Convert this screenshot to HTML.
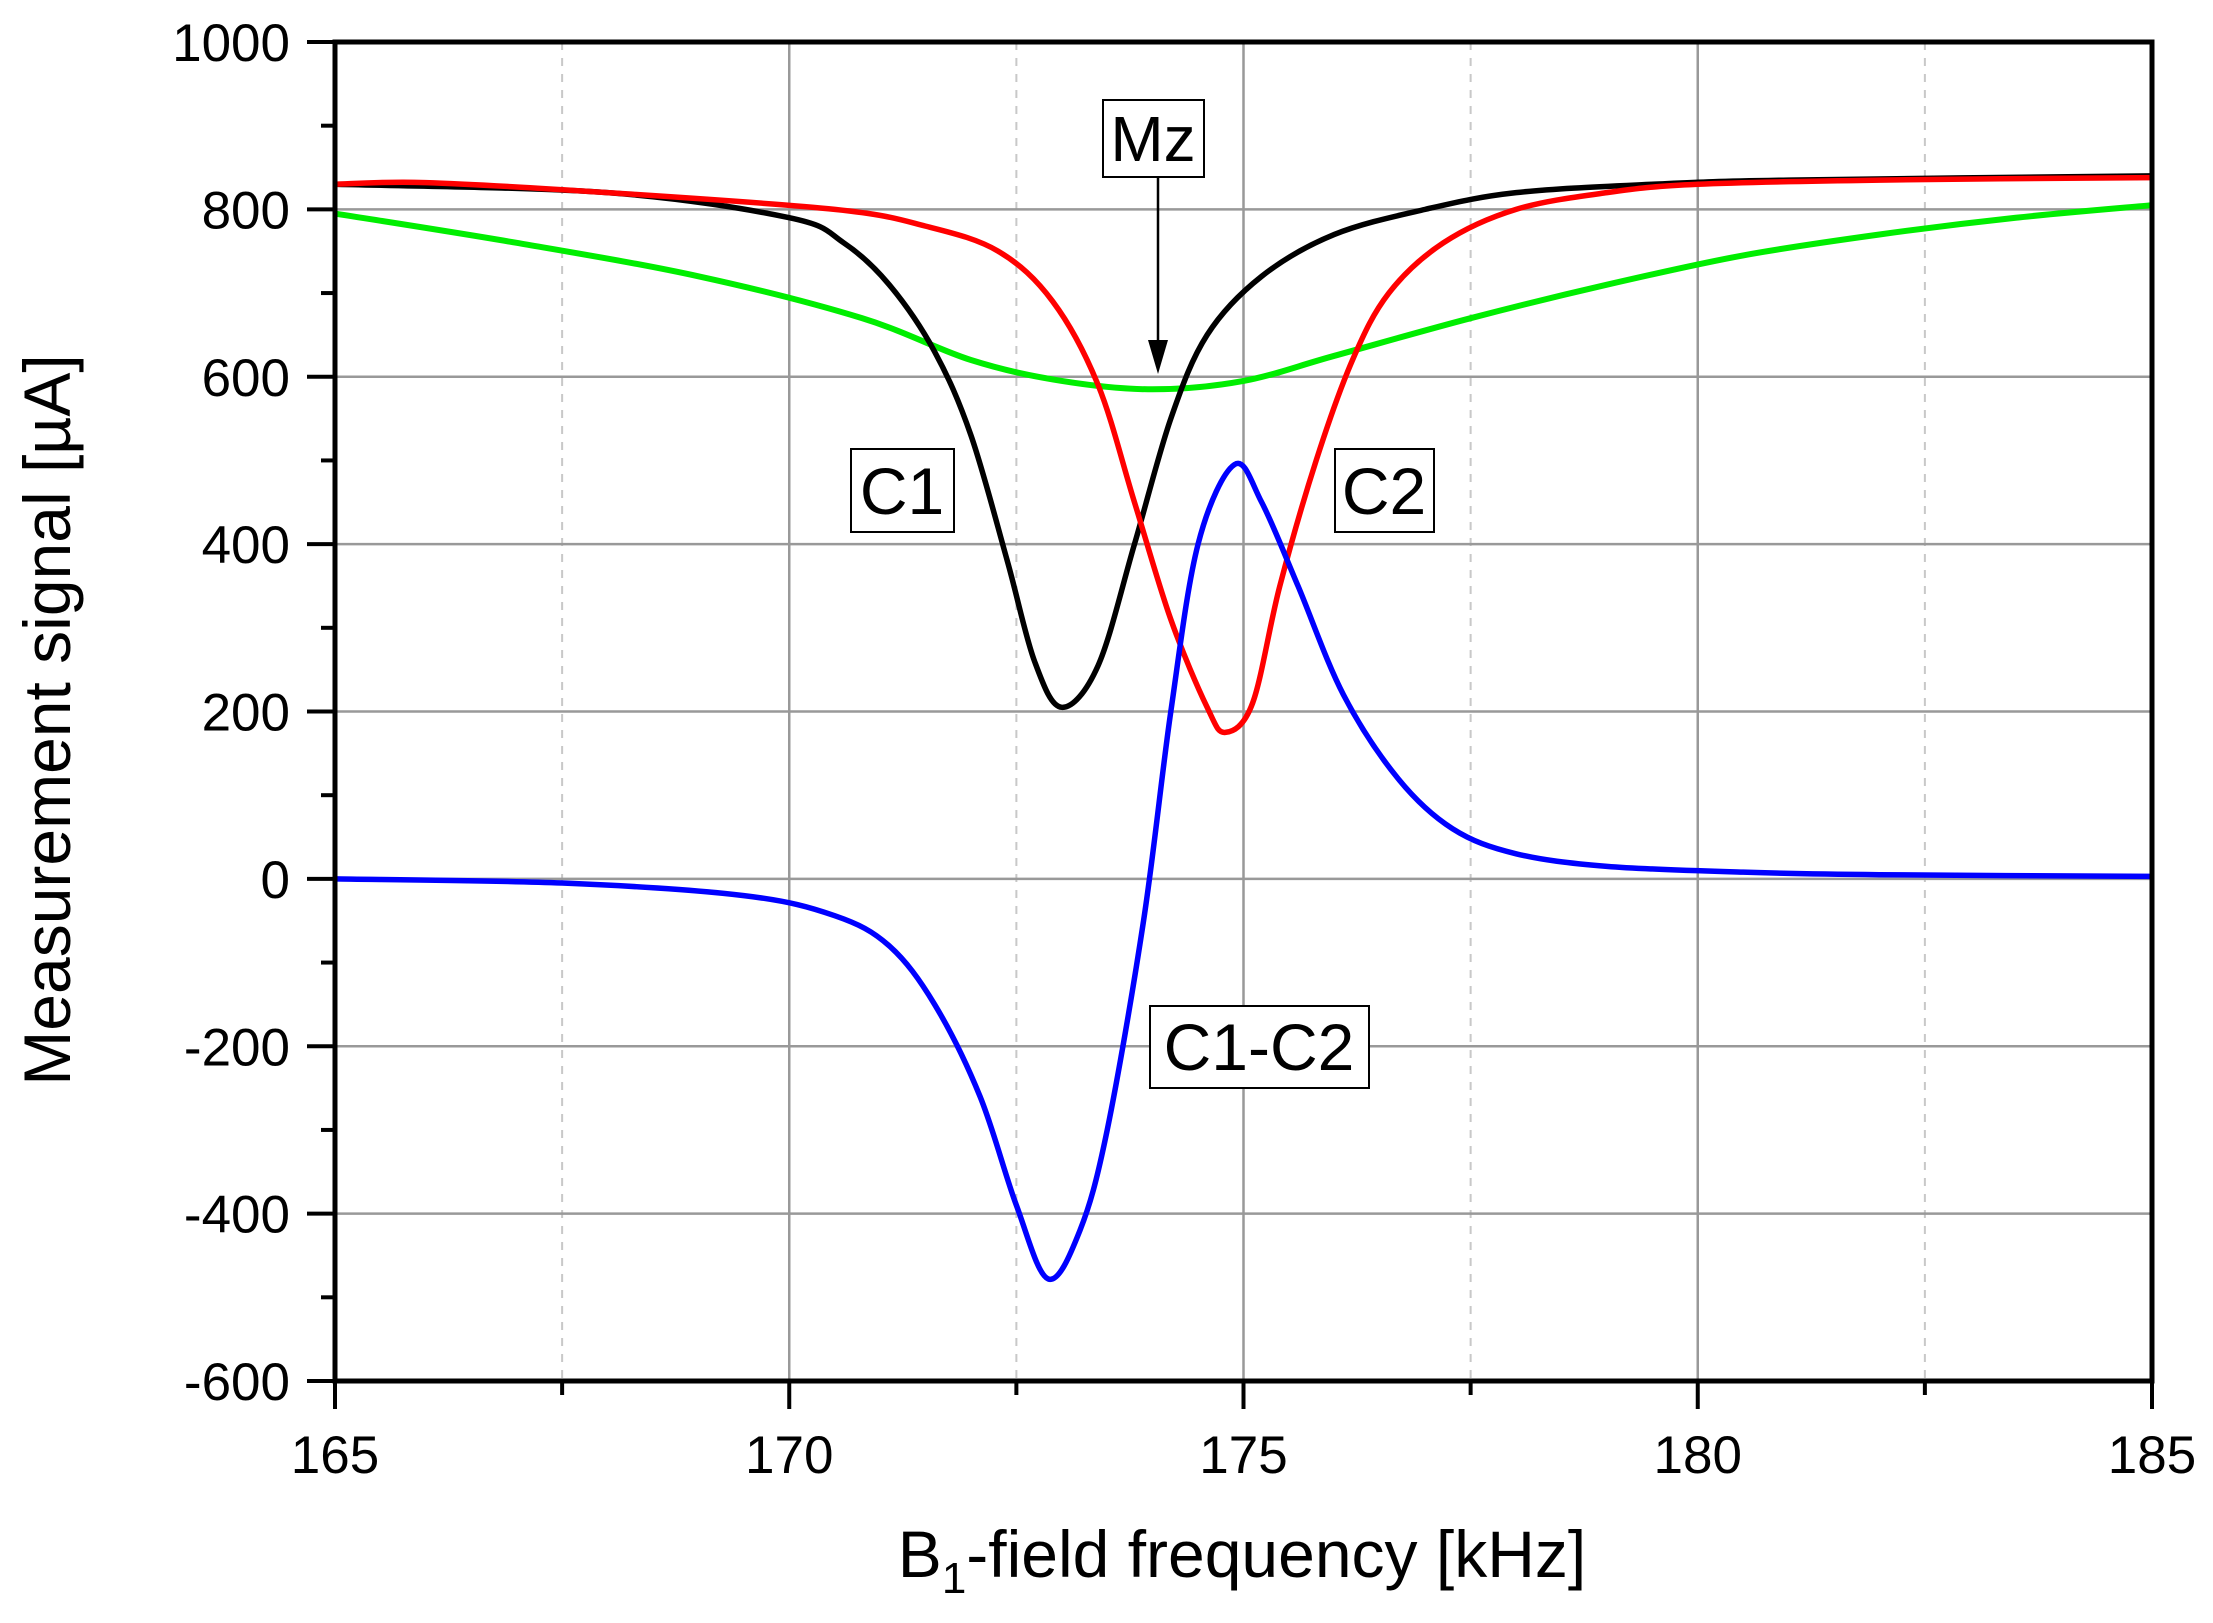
<!DOCTYPE html>
<html><head><meta charset="utf-8">
<style>
html,body{margin:0;padding:0;background:#fff;}
svg{display:block;font-family:"Liberation Sans",Arial,sans-serif;}
</style></head>
<body>
<svg id="chart" width="2213" height="1623" viewBox="0 0 2213 1623" xmlns="http://www.w3.org/2000/svg">
<g id="grid"></g>
<g id="series"></g>
<g id="axes"></g>
<text x="0" y="0" transform="translate(70,720) rotate(-90)" text-anchor="middle" font-size="66">Measurement signal [µA]</text>
<text x="1242" y="1577" text-anchor="middle" font-size="66">B<tspan font-size="44" dy="16">1</tspan><tspan dy="-16">-field frequency [kHz]</tspan></text>
<g>
<rect x="1103" y="100" width="101" height="77" fill="#fff" stroke="#000" stroke-width="2"/>
<text x="1153" y="161" text-anchor="middle" font-size="64">Mz</text>
<line x1="1158" y1="178" x2="1158" y2="350" stroke="#000" stroke-width="2.5"/>
<polygon points="1148,340 1168,340 1158,374" fill="#000"/>
</g>
<g>
<rect x="851" y="449" width="103" height="83" fill="#fff" stroke="#000" stroke-width="2"/>
<text x="902" y="514" text-anchor="middle" font-size="66">C1</text>
</g>
<g>
<rect x="1335" y="449" width="99" height="83" fill="#fff" stroke="#000" stroke-width="2"/>
<text x="1384" y="514" text-anchor="middle" font-size="66">C2</text>
</g>
<g>
<rect x="1150" y="1006" width="219" height="82" fill="#fff" stroke="#000" stroke-width="2"/>
<text x="1259" y="1070" text-anchor="middle" font-size="66">C1-C2</text>
</g>
</svg>
<script>
const xTicks = [165, 170, 175, 180, 185];
const yTicks = [-600, -400, -200, 0, 200, 400, 600, 800, 1000];
const c1X = [165,168,170,170.6,171.1,171.6,172,172.4,172.7,173,173.4,173.8,174.2,174.6,175.2,176,177,178,179.5,181,185];
const c1Y = [830,820,790,760,710,630,530,380,260,205,255,400,550,650,720,770,800,820,830,835,840];
const c2X = [165,166,168,170.5,171.5,172.3,172.9,173.4,173.8,174.2,174.6,174.8,175.1,175.4,175.8,176.2,176.6,177.2,178,179,180,182,185];
const c2Y = [830,832,820,800,780,750,690,590,450,310,205,175,210,350,500,620,700,760,800,820,830,835,838];
const mzX = [165,167,169,170.8,172,173,174,175,176,177.5,179,180.5,182,183.5,185];
const mzY = [795,760,720,670,620,595,585,595,625,670,710,745,770,790,805];
const dX = [165,167.5,169.5,170.5,171.1,171.6,172.1,172.5,172.85,173.2,173.5,173.9,174.2,174.5,174.9,175.2,175.6,176.1,176.7,177.3,178,179,180.5,182,185];
const dY = [0,-5,-20,-44,-80,-150,-260,-390,-478,-420,-300,-50,200,400,495,450,350,220,120,60,30,15,8,5,3];

const X0=335,X1=2152,Y0=1381,Y1=42;
function xs(v){return X0+(v-165)/20*(X1-X0);}
function ys(v){return Y0-(v+600)/1600*(Y0-Y1);}
const NS="http://www.w3.org/2000/svg";
function mk(tag,attrs,parent){const e=document.createElementNS(NS,tag);for(const k in attrs)e.setAttribute(k,attrs[k]);parent.appendChild(e);return e;}
const grid=document.getElementById('grid'),axes=document.getElementById('axes'),ser=document.getElementById('series');
for(let i=0;i<xTicks.length-1;i++){
  const m=(xTicks[i]+xTicks[i+1])/2;
  const l=mk('line',{x1:xs(m),x2:xs(m),y1:Y1,y2:Y0,stroke:'#c8c8c8','stroke-width':2,'stroke-dasharray':'8,8'},grid);
  
  
  const t=mk('line',{x1:xs(m),x2:xs(m),y1:Y0,y2:Y0+14,stroke:'#000','stroke-width':4},axes);
  
  
}
xTicks.forEach(v=>{
  const g=mk('line',{x1:xs(v),x2:xs(v),y1:Y1,y2:Y0,stroke:'#999','stroke-width':2.5},grid);
  
  
  const t=mk('line',{x1:xs(v),x2:xs(v),y1:Y0,y2:Y0+28,stroke:'#000','stroke-width':4},axes);
  
  
  const tx=mk('text',{x:xs(v),y:1473,'text-anchor':'middle','font-size':53},axes);
  tx.textContent=v;
  
  
});
for(let i=0;i<yTicks.length-1;i++){
  const m=(yTicks[i]+yTicks[i+1])/2;
  const t=mk('line',{x1:X0-14,x2:X0,y1:ys(m),y2:ys(m),stroke:'#000','stroke-width':4},axes);
  
  
}
yTicks.forEach(v=>{
  const g=mk('line',{x1:X0,x2:X1,y1:ys(v),y2:ys(v),stroke:'#999','stroke-width':2.5},grid);
  
  
  const t=mk('line',{x1:X0-28,x2:X0,y1:ys(v),y2:ys(v),stroke:'#000','stroke-width':4},axes);
  
  
  const tx=mk('text',{x:290,y:ys(v)+19,'text-anchor':'end','font-size':53},axes);
  tx.textContent=v;
  
  
});
const frame=mk('rect',{x:X0,y:Y1,width:X1-X0,height:Y0-Y1,fill:'none',stroke:'#000','stroke-width':5},axes);


function path(xa,ya){
  const p=xa.map((x,i)=>[xs(x),ys(ya[i])]);
  let d='M'+p[0][0]+','+p[0][1];
  for(let i=0;i<p.length-1;i++){
    const a=p[Math.max(0,i-1)],b=p[i],c=p[i+1],e=p[Math.min(p.length-1,i+2)];
    const c1=[b[0]+(c[0]-a[0])/6,b[1]+(c[1]-a[1])/6],c2=[c[0]-(e[0]-b[0])/6,c[1]-(e[1]-b[1])/6];
    d+=' C'+c1[0]+','+c1[1]+' '+c2[0]+','+c2[1]+' '+c[0]+','+c[1];
  }
  return d;
}
const s1=mk('path',{d:path(mzX,mzY),fill:'none',stroke:'#00ee00','stroke-width':6},ser);


const s2=mk('path',{d:path(c1X,c1Y),fill:'none',stroke:'#000','stroke-width':5.5},ser);


const s3=mk('path',{d:path(c2X,c2Y),fill:'none',stroke:'#ff0000','stroke-width':5.5},ser);


const s4=mk('path',{d:path(dX,dY),fill:'none',stroke:'#0000ff','stroke-width':5.5},ser);


</script>
</body></html>
